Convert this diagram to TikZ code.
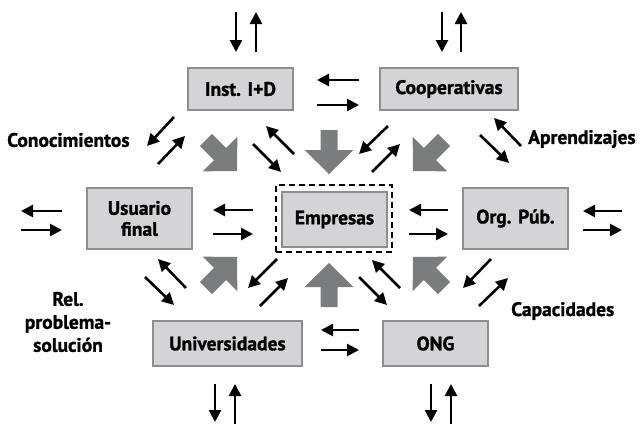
\documentclass[tikz,border=0pt]{standalone}
\usepackage{fontspec}
\setmainfont{PT Sans}[BoldFeatures={FakeBold=1.2}]
\usetikzlibrary{arrows.meta}
\definecolor{boxfill}{HTML}{D4D4D6}
\definecolor{boxline}{HTML}{8E8E90}
\definecolor{bigarr}{HTML}{7B7C7E}
\newcommand{\bigarrow}[3]{%
  \fill[bigarr, shift={(#1,#2)}, rotate=#3] (0,0) -- (-24,24.5) -- (-24,8.5) -- (-44,8.5) -- (-44,-8.5) -- (-24,-8.5) -- (-24,-24.5) -- cycle;}
\begin{document}
\begin{tikzpicture}[x=1pt,y=-1pt,
  every node/.style={font=\fontsize{19.5}{21}\selectfont\bfseries, text=black},
  actor/.style={draw=boxline, line width=1.4pt, fill=boxfill, inner sep=0pt, align=center},
  flow/.style={line width=2.6pt, -{Triangle[length=12pt,width=12pt]}},
  lbl/.style={inner sep=0pt, align=center}]
\useasboundingbox (0,0) rectangle (642,423);
% actors
\node[actor, minimum width=105pt, minimum height=42pt] (inst) at (240.5,89) {Inst. I+D};
\node[actor, minimum width=138pt, minimum height=42pt] (coop) at (449,89) {Cooperativas};
\node[actor, minimum width=105pt, minimum height=61pt] (usu) at (139.5,218.5) {Usuario\\final};
\node[actor, minimum width=105pt, minimum height=55pt] (emp) at (334.5,219.5) {Empresas};
\node[draw=black, dash pattern=on 6pt off 4pt, line width=1.4pt, minimum width=116pt, minimum height=67pt, inner sep=0pt] (dash) at (334,218.5) {};
\node[actor, minimum width=105pt, minimum height=61pt] (org) at (515.5,218.5) {Org. Púb.};
\node[actor, minimum width=149pt, minimum height=45pt] (univ) at (227.5,343.5) {Universidades};
\node[actor, minimum width=105pt, minimum height=45pt] (ong) at (435.5,343.5) {ONG};
% labels
\node[lbl, anchor=west] (lcon) at (7,140) {Conocimientos};
\node[lbl, anchor=west] (lapr) at (528,139) {Aprendizajes};
\node[lbl, anchor=west] (lcap) at (511,311) {Capacidades};
\node[lbl, font=\fontsize{19.5}{23}\selectfont\bfseries] (lrel) at (68,322) {Rel.\\problema-\\solución};
% big gray arrows
\bigarrow{329}{174}{-90}
\bigarrow{329}{263}{90}
\bigarrow{237}{171}{-45}
\bigarrow{413}{171}{-135}
\bigarrow{237}{257}{45}
\bigarrow{413}{257}{135}
% vertical pairs
\draw[flow] (236,12) -- (236,52);
\draw[flow] (256,52) -- (256,12);
\draw[flow] (442,12) -- (442,52);
\draw[flow] (461,52) -- (461,12);
\draw[flow] (215,384) -- (215,422);
\draw[flow] (235,424) -- (235,384);
\draw[flow] (431,384) -- (431,422);
\draw[flow] (451,424) -- (451,384);
% horizontal pairs
\draw[flow] (359,80) -- (317,80);
\draw[flow] (317,105) -- (359,105);
\draw[flow] (62,211) -- (21,211);
\draw[flow] (21,230) -- (62,230);
\draw[flow] (253,210) -- (213,210);
\draw[flow] (213,234) -- (253,234);
\draw[flow] (448,210) -- (409,210);
\draw[flow] (409,234) -- (448,234);
\draw[flow] (622,211) -- (583,211);
\draw[flow] (583,230) -- (622,230);
\draw[flow] (359,330) -- (321,330);
\draw[flow] (321,350) -- (359,350);
% diagonal pairs
\draw[flow] (174,117) -- (147,146);
\draw[flow] (158,164) -- (185,136);
\draw[flow] (294,154) -- (266,126);
\draw[flow] (253,144) -- (281,172);
\draw[flow] (388,126) -- (359,154);
\draw[flow] (372,172) -- (400,144);
\draw[flow] (521,146) -- (494,118);
\draw[flow] (480,135) -- (509,163);
\draw[flow] (186,288) -- (158,259);
\draw[flow] (145,277) -- (174,305);
\draw[flow] (277,259) -- (248,288);
\draw[flow] (260,306) -- (288,278);
\draw[flow] (400,288) -- (372,260);
\draw[flow] (359,277) -- (387,305);
\draw[flow] (491,259) -- (463,288);
\draw[flow] (479,306) -- (508,278);
\end{tikzpicture}
\end{document}
